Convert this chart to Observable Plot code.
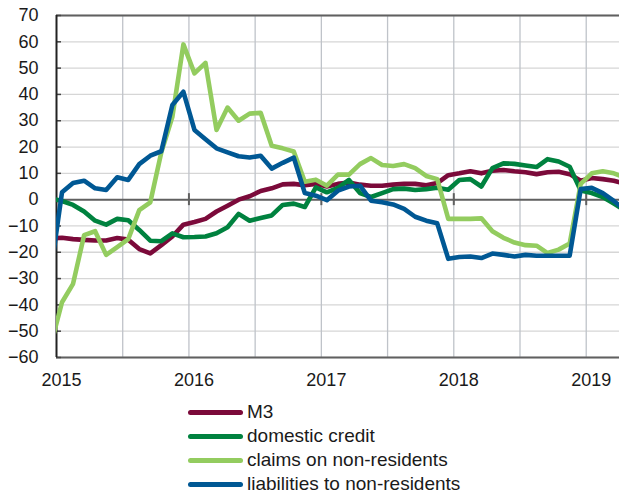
<!DOCTYPE html>
<html>
<head>
<meta charset="utf-8">
<script src="https://cdn.jsdelivr.net/npm/d3@7"></script>
<script src="https://cdn.jsdelivr.net/npm/@observablehq/plot@0.6"></script>
<style>
  body { margin: 0; background: #fff; font-family: "Liberation Sans", Arial, sans-serif; overflow: hidden; }
  #chart svg { display: block; }
  #legend { margin: 5px 0 0 188px; font-size: 19px; color: #1a1a1a; }
  .row { display: flex; align-items: center; height: 18px; margin-bottom: 6px; line-height: 18px; }
  .row:last-child { margin-bottom: 0; }
  .sw { width: 55px; height: 5px; border-radius: 3px; margin-right: 4px; flex: none; }
</style>
</head>
<body>
<div id="chart"></div>
<div id="legend"></div>
<script>
// Monthly observations, Dec 2014 .. Apr 2019 (axis shows Jan 2015 .. early Apr 2019)
const months = d3.utcMonths(new Date(Date.UTC(2014, 11, 1)), new Date(Date.UTC(2019, 4, 1)));

const seriesNames = ["M3", "domestic credit", "claims on non-residents", "liabilities to non-residents"];
const seriesColors = ["#7b0a3a", "#00823f", "#93cc5f", "#005894"];

const m3 = [-14.7,
  -14.5, -15, -15.3, -15.5, -15.5, -14.6, -15.2, -18.8, -20.4, -17.3, -14, -9.5,
  -8.5, -7.3, -4.5, -2.3, 0, 1.3, 3.3, 4.3, 5.8, 6, 5.5, 6,
  5, 6, 6.5, 5.7, 5.3, 5.3, 5.7, 6, 6, 5.5, 6.3, 9.3,
  10, 10.8, 10, 11, 11.3, 10.8, 10.4, 9.7, 10.4, 10.6, 9.7, 7.2,
  8.2, 7.8, 7.2, 6.1];

const domesticCredit = [0.5,
  -0.5, -2, -4.5, -8, -9.5, -7.3, -7.8, -11.5, -15.6, -15.8, -12.8, -14.3,
  -14.2, -14, -12.8, -10.5, -5.4, -8, -7, -6, -2, -1.5, -2.8, 4.7,
  2.8, 4.5, 7.5, 2.5, 1, 2.5, 4, 4.2, 3.7, 4, 4.5, 3.8,
  7.5, 7.8, 5, 12, 13.8, 13.6, 13, 12.4, 15.4, 14.5, 12.5, 3.5,
  2.5, 1, -1.5, -4.1];

const claims = [-55,
  -39, -32, -13.5, -12, -21, -18, -15, -4, -1, 18, 31.5, 59,
  48, 52, 26.5, 35, 30, 32.7, 33, 20.5, 19.5, 18.3, 6.8, 7.6,
  5.3, 9.5, 9.5, 13.5, 15.8, 13.2, 12.8, 13.5, 12, 9, 7.8, -7.3,
  -7.3, -7.3, -7.1, -12, -14.5, -16.3, -17.3, -17.5, -20.3, -19, -16.7, 6,
  10, 10.8, 10, 8.5];

const liabilities = [-26.8,
  2.8, 6.3, 7.2, 4.3, 3.7, 8.5, 7.5, 13.5, 16.7, 18.4, 36, 41,
  26.5, 23, 19.5, 18, 16.5, 16, 16.7, 11.8, 14, 16, 2.5, 1.5,
  -0.2, 3.4, 5, 5.3, -0.4, -1, -1.8, -3.5, -6.5, -8, -9, -22.5,
  -21.8, -21.6, -22.2, -20.5, -21, -21.6, -21, -21.3, -21.3, -21.3, -21.3, 4,
  4.5, 2.5, -0.5, -3.8];

const yTicks = d3.range(-60, 71, 10);
const years = [2015, 2016, 2017, 2018, 2019];
const halfYears = d3.range(2015.5, 2019.01, 0.5);

const seriesValues = [m3, domesticCredit, claims, liabilities];
const rows = [];
seriesValues.forEach((vals, s) => {
  vals.forEach((v, i) => {
    const d = months[i];
    rows.push({series: seriesNames[s], x: d.getUTCFullYear() + (d.getUTCMonth() + 0.5) / 12, value: v});
  });
});

const chart = Plot.plot({
  width: 619,
  height: 398,
  marginLeft: 56,
  marginRight: 0,
  marginTop: 15,
  marginBottom: 41,
  style: {fontFamily: "Liberation Sans, Arial, sans-serif", fontSize: "18px", color: "#1a1a1a", background: "#fff"},
  x: {domain: [2015, 2019.2513], label: null},
  y: {domain: [-60, 70], label: null},
  color: {domain: seriesNames, range: seriesColors},
  marks: [
    Plot.ruleY(yTicks, {stroke: "#d6d6d6", strokeWidth: 1.3}),
    Plot.ruleX(halfYears, {stroke: "#bfc3c9", strokeWidth: 1.3}),
    Plot.ruleY([70, -60], {stroke: "#606060", strokeWidth: 2}),
    Plot.ruleY([0], {stroke: "#606060", strokeWidth: 2}),
    Plot.ruleX(years.slice(1), {x: d => d, y1: 0, y2: 0, insetTop: -6, insetBottom: -6, stroke: "#606060", strokeWidth: 2}),
    Plot.ruleY(yTicks, {y: d => d, x1: 2015, x2: 2015, insetRight: -5, stroke: "#444", strokeWidth: 1.5}),
    Plot.ruleX([2015], {stroke: "#222", strokeWidth: 2}),
    Plot.line(rows, {x: "x", y: "value", z: "series", stroke: "series", strokeWidth: 4.6, strokeLinejoin: "round", clip: true}),
    Plot.axisY({ticks: yTicks, tickSize: 0, tickPadding: 18, fontSize: 18, label: null}),
    Plot.axisX({ticks: years, tickSize: 0, tickPadding: 16, fontSize: 18, dx: 5, label: null, tickFormat: d => String(d)})
  ]
});
document.getElementById("chart").appendChild(chart);

const legend = document.getElementById("legend");
seriesNames.forEach((name, i) => {
  const row = document.createElement("div");
  row.className = "row";
  const sw = document.createElement("span");
  sw.className = "sw";
  sw.style.background = seriesColors[i];
  const t = document.createElement("span");
  t.textContent = name;
  row.appendChild(sw);
  row.appendChild(t);
  legend.appendChild(row);
});
</script>
</body>
</html>
